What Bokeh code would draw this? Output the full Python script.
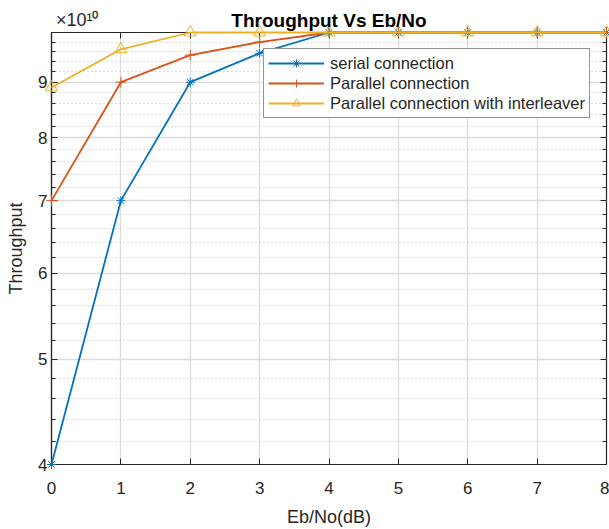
from bokeh.plotting import figure
from bokeh.models import FixedTicker, Legend, LegendItem, LogAxis, LinearAxis, Title
from bokeh.embed import file_html
from bokeh.resources import INLINE

# ---- data ----
ebno = [0, 1, 2, 3, 4, 5, 6, 7, 8]
serial = [4.0e10, 7.0e10, 9.0e10, 9.57e10, 1.0e11, 1.0e11, 1.0e11, 1.0e11, 1.0e11]
parallel = [7.0e10, 9.0e10, 9.53e10, 9.8e10, 1.0e11, 1.0e11, 1.0e11, 1.0e11, 1.0e11]
interleaver = [8.9e10, 9.65e10, 1.0e11, 1.0e11, 1.0e11, 1.0e11, 1.0e11, 1.0e11, 1.0e11]

x_ticks = [0, 1, 2, 3, 4, 5, 6, 7, 8]
y_ticks = [4e10, 5e10, 6e10, 7e10, 8e10, 9e10]
y_tick_labels = ["4", "5", "6", "7", "8", "9"]
y_minor_ticks = [4.2e10, 4.4e10, 4.6e10, 4.8e10,
                 5.2e10, 5.4e10, 5.6e10, 5.8e10,
                 6.2e10, 6.4e10, 6.6e10, 6.8e10,
                 7.2e10, 7.4e10, 7.6e10, 7.8e10,
                 8.2e10, 8.4e10, 8.6e10, 8.8e10,
                 9.2e10, 9.4e10, 9.6e10, 9.8e10]
exponent_text = "×10¹⁰"
exponent_anchor = 0.37   # x position (data units) where the exponent label is centred

series_names = ["serial connection", "Parallel connection",
                "Parallel connection with interleaver"]
title_text = "Throughput Vs Eb/No"
colors = ["#0072BD", "#D95319", "#EDB120"]
FONT = "Liberation Sans"
DARK = "#262626"

p = figure(width=609, height=529, y_axis_type="log",
           x_range=(0, 8), y_range=(4e10, 1e11),
           output_backend="svg", toolbar_location=None,
           min_border_left=51, min_border_right=3,
           min_border_top=32, min_border_bottom=62)

p.outline_line_color = DARK
p.outline_line_width = 1.2
p.background_fill_color = "white"
p.border_fill_color = "white"

xt = FixedTicker(ticks=x_ticks, minor_ticks=[])
yt = FixedTicker(ticks=y_ticks, minor_ticks=y_minor_ticks)

p.xaxis.ticker = xt
p.yaxis.ticker = yt
p.yaxis.major_label_overrides = {t: l for t, l in zip(y_ticks, y_tick_labels)}

for ax in (p.xaxis[0], p.yaxis[0]):
    ax.axis_line_color = DARK
    ax.axis_line_width = 1.2
    ax.major_tick_line_color = DARK
    ax.minor_tick_line_color = DARK
    ax.major_tick_in = 6
    ax.major_tick_out = 0
    ax.minor_tick_in = 4
    ax.minor_tick_out = 0
    ax.major_label_text_font = FONT
    ax.major_label_text_font_size = "17px"
    ax.major_label_text_color = DARK
    ax.axis_label_text_font = FONT
    ax.axis_label_text_font_size = "18px"
    ax.axis_label_text_font_style = "normal"
    ax.axis_label_text_color = DARK

p.xaxis.axis_label = "Eb/No(dB)"
p.yaxis.axis_label = "Throughput"
p.xaxis.major_label_standoff = 17
p.xaxis.axis_label_standoff = 10
p.yaxis.major_label_standoff = 4
p.yaxis.axis_label_standoff = 9

# box ticks on right / top (no labels)
rax = LogAxis(ticker=yt, major_label_text_font_size="0px", major_label_text_color=None,
              major_label_standoff=0,
              axis_line_color=None, major_tick_in=6, major_tick_out=0,
              minor_tick_in=4, minor_tick_out=0,
              major_tick_line_color=DARK, minor_tick_line_color=DARK)
p.add_layout(rax, "right")
tax = LinearAxis(ticker=xt, major_label_text_font_size="0px", major_label_text_color=None,
                 major_label_standoff=0,
                 axis_line_color=None, major_tick_in=6, major_tick_out=0,
                 minor_tick_in=0, minor_tick_out=0,
                 major_tick_line_color=DARK)
p.add_layout(tax, "above")

# title
p.add_layout(Title(text=title_text, align="center", vertical_align="top",
                   standoff=0, text_font=FONT, text_font_size="19px",
                   text_font_style="bold", text_color="black"), "above")

# exponent label (x10^10) as a tick label of an extra top axis, pulled into the title row
eax = LinearAxis(ticker=FixedTicker(ticks=[exponent_anchor], minor_ticks=[]),
                 major_label_overrides={exponent_anchor: exponent_text},
                 axis_line_color=None, major_tick_in=0, major_tick_out=0,
                 minor_tick_in=0, minor_tick_out=0,
                 major_label_text_font=FONT, major_label_text_font_size="18px",
                 major_label_text_color=DARK)
eax.major_label_standoff = -20
p.add_layout(eax, "above")

# grids
p.xgrid.grid_line_color = "#dcdcdc"
p.xgrid.grid_line_width = 1.3
p.ygrid.grid_line_color = "#dcdcdc"
p.ygrid.grid_line_width = 1.3
p.ygrid.minor_grid_line_color = "#bdbdbd"
p.ygrid.minor_grid_line_dash = "1 3"
p.ygrid.minor_grid_line_width = 1.2

# series (drawn above the axes box, like MATLAB)
items = []
data = [serial, parallel, interleaver]
markers = ["asterisk", "cross", "triangle"]
msizes = [9, 11, 12]
for name, ys, c, m, s in zip(series_names, data, colors, markers, msizes):
    ln = p.line(ebno, ys, line_color=c, line_width=1.8, level="annotation")
    sc = p.scatter(ebno, ys, marker=m, size=s, line_color=c, fill_color=None,
                   line_width=1.0, level="annotation")
    items.append(LegendItem(label=name, renderers=[ln, sc]))

legend = Legend(items=items, location="top_right", margin=16, level="overlay",
                label_text_font=FONT, label_text_font_size="16.5px",
                label_text_color=DARK, label_height=20, glyph_height=20,
                glyph_width=56, label_standoff=6, spacing=0, padding=4,
                border_line_color=DARK, border_line_width=1.5,
                background_fill_color="white", background_fill_alpha=1.0)
p.add_layout(legend)

open("out.html", "w").write(file_html(p, INLINE))
